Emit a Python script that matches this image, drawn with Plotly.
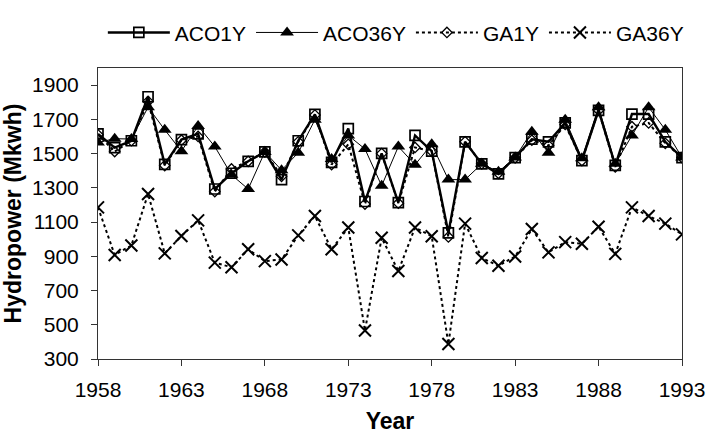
import plotly.graph_objects as go

years = list(range(1958, 1994))

aco1y = [1615, 1535, 1575, 1832, 1437, 1582, 1615, 1293, 1385, 1455, 1510, 1348,
         1575, 1729, 1449, 1646, 1220, 1501, 1214, 1606, 1514, 1037, 1569, 1440,
         1381, 1477, 1584, 1569, 1679, 1459, 1753, 1431, 1731, 1731, 1569, 1477]
aco36y = [1565, 1587, 1585, 1771, 1639, 1514, 1661, 1541, 1376, 1293, 1510, 1403,
          1505, 1698, 1468, 1606, 1527, 1312, 1541, 1435, 1554, 1348, 1348, 1440,
          1394, 1477, 1628, 1505, 1698, 1473, 1771, 1440, 1606, 1771, 1639, 1477]
ga1y = [1610, 1512, 1575, 1805, 1430, 1578, 1600, 1278, 1410, 1455, 1510, 1367,
        1569, 1725, 1436, 1554, 1205, 1500, 1210, 1536, 1514, 1013, 1569, 1440,
        1385, 1475, 1578, 1547, 1670, 1459, 1753, 1422, 1657, 1679, 1560, 1477]
ga36y = [1186, 908, 963, 1264, 917, 1019, 1110, 863, 836, 941, 872, 881,
         1022, 1135, 941, 1068, 466, 1008, 814, 1068, 1017, 388, 1091, 890,
         845, 899, 1059, 923, 983, 973, 1073, 914, 1186, 1135, 1091, 1028]

x_ticks = [1958, 1963, 1968, 1973, 1978, 1983, 1988, 1993]
y_ticks = [300, 500, 700, 900, 1100, 1300, 1500, 1700, 1900]

FONT = "Arial, Liberation Sans, sans-serif"

fig = go.Figure()
fig.add_trace(go.Scatter(
    x=years, y=aco1y, name="ACO1Y", mode="lines+markers",
    line=dict(color="black", width=2.4),
    marker=dict(symbol="square-open", size=10, color="black", line=dict(width=1.7))))
fig.add_trace(go.Scatter(
    x=years, y=aco36y, name="ACO36Y", mode="lines+markers",
    line=dict(color="black", width=1),
    marker=dict(symbol="triangle-up", size=12, color="black")))
fig.add_trace(go.Scatter(
    x=years, y=ga1y, name="GA1Y", mode="lines+markers",
    line=dict(color="black", width=2, dash="dot"),
    marker=dict(symbol="diamond-open", size=8, color="black", line=dict(width=1.3))))
fig.add_trace(go.Scatter(
    x=years, y=ga36y, name="GA36Y", mode="lines+markers",
    line=dict(color="black", width=2, dash="dot"),
    marker=dict(symbol="x-thin", size=12, color="black", line=dict(width=2, color="black"))))

fig.update_layout(
    width=717, height=441,
    margin=dict(l=98, r=25, t=52, b=78),
    paper_bgcolor="white", plot_bgcolor="white",
    font=dict(family=FONT, color="black", size=21),
    showlegend=True,
    legend=dict(orientation="h", x=0.51, xanchor="center", y=1.121, yanchor="middle",
                font=dict(size=21), itemwidth=62, tracegroupgap=0,
                bgcolor="rgba(0,0,0,0)"),
    xaxis=dict(range=[1958, 1993], tickvals=x_ticks, ticktext=[str(v) for v in x_ticks],
               showgrid=False, zeroline=False, showline=True, linecolor="#333", linewidth=1,
               mirror=True, ticks="outside", ticklen=6, tickcolor="#333",
               tickfont=dict(size=21), ticklabelstandoff=6,
               title=dict(text="<b>Year</b>", font=dict(size=23), standoff=12)),
    yaxis=dict(range=[300, 2000], tickvals=y_ticks,
               showgrid=False, zeroline=False, showline=True, linecolor="#333", linewidth=1,
               mirror=True, ticks="outside", ticklen=6, tickcolor="#333",
               tickfont=dict(size=21), ticklabelstandoff=8,
               title=dict(text="<b>Hydropower (Mkwh)</b>", font=dict(size=23), standoff=4)),
)

fig.write_html("out.html")
